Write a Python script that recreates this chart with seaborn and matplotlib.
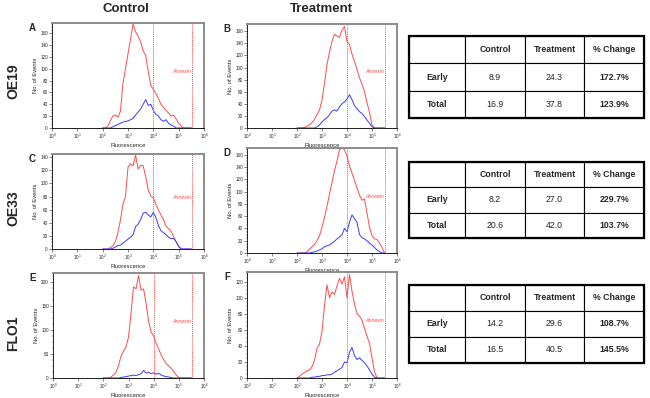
import numpy as np
import pandas as pd
import matplotlib
matplotlib.use("Agg")
import matplotlib.pyplot as plt
import seaborn as sns
from matplotlib.ticker import FixedLocator, MultipleLocator, LogLocator, NullFormatter
from matplotlib.patches import Rectangle

# histogram channels, log10 of fluorescence (0.1 decade bins)
fluor_log = np.round(np.arange(2.0, 5.55, 0.1), 1)

# event counts (red trace / blue trace)
oe19_ctrl_red = [0, 0, 3, 12, 20, 22, 18, 28, 75, 100,
                 125, 150, 175, 162, 155, 145, 130, 122, 95, 72,
                 65, 58, 50, 40, 35, 30, 25, 20, 22, 15,
                 8, 3, 0, 0, 0, 0]
oe19_ctrl_blue = [0, 0, 0, 0, 2, 4, 6, 8, 10, 11,
                  12, 14, 16, 22, 27, 32, 40, 48, 38, 40,
                  30, 23, 20, 14, 11, 14, 8, 5, 3, 0,
                  0, 0, 0, 0, 0, 0]
oe19_trt_red = [0, 0, 0, 1, 3, 5, 9, 14, 22, 30,
                46, 74, 105, 126, 143, 155, 152, 150, 162, 168,
                143, 138, 122, 110, 97, 83, 72, 60, 42, 26,
                5, 0, 0, 0, 0, 0]
oe19_trt_blue = [0, 0, 0, 0, 0, 0, 0, 0, 2, 5,
                 10, 14, 17, 22, 28, 30, 28, 35, 40, 43,
                 48, 55, 47, 37, 32, 27, 24, 19, 13, 8,
                 2, 0, 0, 0, 0, 0]
oe33_ctrl_red = [0, 0, 0, 2, 5, 11, 25, 44, 68, 80,
                 125, 130, 127, 143, 122, 128, 127, 110, 90, 81,
                 78, 68, 60, 52, 45, 35, 31, 27, 19, 11,
                 4, 0, 0, 0, 0, 0]
oe33_ctrl_blue = [0, 0, 0, 0, 1, 3, 5, 6, 9, 12,
                  15, 18, 22, 34, 38, 45, 55, 56, 52, 49,
                  56, 48, 36, 28, 25, 22, 18, 16, 16, 11,
                  4, 0, 0, 0, 0, 0]
oe33_trt_red = [0, 0, 0, 0, 2, 6, 10, 14, 20, 28,
                42, 58, 76, 96, 115, 134, 150, 168, 171, 168,
                158, 142, 130, 118, 106, 94, 86, 88, 65, 42,
                28, 23, 22, 16, 9, 0]
oe33_trt_blue = [0, 0, 0, 0, 0, 0, 1, 2, 3, 5,
                 7, 10, 12, 13, 16, 19, 23, 26, 30, 40,
                 35, 50, 62, 56, 50, 30, 25, 23, 20, 16,
                 13, 9, 5, 2, 0, 0]
flo1_ctrl_red = [0, 0, 0, 2, 6, 12, 25, 45, 56, 65,
                 85, 135, 190, 186, 214, 183, 186, 155, 118, 96,
                 87, 72, 60, 48, 38, 30, 25, 20, 14, 6,
                 1, 0, 0, 0, 0, 0]
flo1_ctrl_blue = [0, 0, 0, 0, 0, 0, 0, 1, 2, 3,
                  4, 5, 6, 5, 7, 9, 16, 10, 12, 9,
                  11, 8, 10, 6, 4, 3, 2, 1, 0, 0,
                  0, 0, 0, 0, 0, 0]
flo1_trt_red = [0, 2, 5, 7, 9, 10, 14, 22, 37, 42,
                58, 90, 116, 100, 107, 104, 115, 124, 117, 126,
                100, 129, 108, 92, 80, 77, 72, 62, 52, 43,
                25, 8, 0, 0, 0, 0]
flo1_trt_blue = [0, 0, 0, 0, 0, 0, 1, 1, 2, 2,
                 3, 3, 4, 4, 5, 7, 9, 11, 13, 20,
                 19, 32, 38, 28, 23, 25, 22, 19, 15, 10,
                 5, 1, 0, 0, 0, 0]

# annexin gate (log10 fluorescence)
gate_lo, gate_hi = 4.0, 5.53

# summary tables
table_cols = ["", "Control", "Treatment", "% Change"]
row_names = ["Early", "Total"]
oe19_control = [8.9, 16.9]
oe19_treatment = [24.3, 37.8]
oe19_change = ["172.7%", "123.9%"]
oe33_control = [8.2, 20.6]
oe33_treatment = [27.0, 42.0]
oe33_change = ["229.7%", "103.7%"]
flo1_control = [14.2, 16.5]
flo1_treatment = [29.6, 40.5]
flo1_change = ["108.7%", "145.5%"]

sns.set_style("white")
plt.rcParams['font.family'] = ['Liberation Sans', 'DejaVu Sans']
plt.rcParams['mathtext.fontset'] = 'custom'
plt.rcParams['mathtext.rm'] = 'Liberation Sans'

W, H = 650, 398
fig = plt.figure(figsize=(6.5, 3.98), dpi=100)


def px_axes(l, t, r, b):
    return fig.add_axes([l / W, 1 - b / H, (r - l) / W, (b - t) / H])


def histogram(ax, red, blue, ymax, ystep):
    df = pd.DataFrame({
        'fluor': np.concatenate([10 ** fluor_log, 10 ** fluor_log]),
        'events': np.concatenate([red, blue]),
        'trace': ['red'] * len(red) + ['blue'] * len(blue),
    })
    sns.lineplot(data=df, x='fluor', y='events', hue='trace',
                 palette={'red': '#ff4a4a', 'blue': '#3a3aff'},
                 legend=False, lw=0.7, ax=ax)
    ax.set_xscale('log')
    ax.set_xlim(1, 1e6)
    ax.set_ylim(0, ymax)
    ax.xaxis.set_major_locator(FixedLocator([10.0 ** k for k in range(7)]))
    ax.set_xticklabels([f'$10^{k}$' for k in range(7)])
    ax.xaxis.set_minor_locator(LogLocator(base=10, subs=np.arange(2, 10)))
    ax.xaxis.set_minor_formatter(NullFormatter())
    ax.yaxis.set_major_locator(MultipleLocator(ystep))
    ax.yaxis.set_minor_locator(MultipleLocator(ystep / 4))
    ax.tick_params(which='major', length=2, width=0.4, labelsize=3.3, pad=1,
                   direction='out', left=True, bottom=True)
    ax.tick_params(which='minor', length=1, width=0.3, left=True, bottom=True)
    ax.set_xlabel('Fluorescence', fontsize=4.2, labelpad=1)
    ax.set_ylabel('No. of Events', fontsize=4.2, labelpad=1.5)
    for s in ['left', 'bottom']:
        ax.spines[s].set_color('black')
        ax.spines[s].set_linewidth(0.6)
    for s in ['top', 'right']:
        ax.spines[s].set_color('#8c8c8c')
        ax.spines[s].set_linewidth(1.4)
    for g in (gate_lo, gate_hi):
        ax.axvline(10 ** g, color='#ff4a4a', ls=(0, (1, 1)), lw=0.7)
    ax.text(10 ** (gate_hi - 0.06), ymax * 0.54, 'Annexin', color='#ff4a4a',
            fontsize=3.8, ha='right', va='center', style='italic')


def summary_table(ax, control, treatment, change):
    ax.set_axis_off()
    cells = [table_cols] + [[n, f'{c:.1f}', f'{t:.1f}', p]
                            for n, c, t, p in zip(row_names, control, treatment, change)]
    tab = ax.table(cellText=cells, bbox=[0, 0, 1, 1], cellLoc='center',
                   colWidths=[0.24, 0.253, 0.253, 0.254])
    tab.auto_set_font_size(False)
    for (r, c), cell in tab.get_celld().items():
        cell.set_linewidth(0.8)
        cell.set_edgecolor('black')
        txt = cell.get_text()
        txt.set_fontsize(6.3)
        if r == 0 or c == 0 or c == 3:
            txt.set_fontweight('bold')
    ax.add_patch(Rectangle((0, 0), 1, 1, transform=ax.transAxes, fill=False,
                           lw=1.6, ec='black', clip_on=False))


panels = [
    ('A', (52, 23, 204, 128), oe19_ctrl_red, oe19_ctrl_blue, 177, 20),
    ('B', (247, 24, 397, 128), oe19_trt_red, oe19_trt_blue, 172, 20),
    ('C', (52, 154, 204, 249), oe33_ctrl_red, oe33_ctrl_blue, 145, 20),
    ('D', (247, 148, 397, 253), oe33_trt_red, oe33_trt_blue, 171, 20),
    ('E', (53, 273, 204, 378), flo1_ctrl_red, flo1_ctrl_blue, 219, 50),
    ('F', (247, 272, 397, 378), flo1_trt_red, flo1_trt_blue, 132, 20),
]
for letter, box, red, blue, ymax, ystep in panels:
    ax = px_axes(*box)
    histogram(ax, red, blue, ymax, ystep)
    fig.text((box[0] - 20) / W, 1 - (box[1] + 5) / H, letter,
             fontsize=7, fontweight='bold', ha='center', va='center')

tables = [
    ((409, 36, 644, 118), oe19_control, oe19_treatment, oe19_change),
    ((409, 162, 644, 238), oe33_control, oe33_treatment, oe33_change),
    ((409, 285, 644, 363), flo1_control, flo1_treatment, flo1_change),
]
for box, ctl, trt, chg in tables:
    summary_table(px_axes(*box), ctl, trt, chg)

fig.text(126 / W, 1 - 9 / H, 'Control', fontsize=9.5, fontweight='bold',
         ha='center', va='center')
fig.text(321 / W, 1 - 9 / H, 'Treatment', fontsize=9.5, fontweight='bold',
         ha='center', va='center')
for name, yc in [('OE19', 81), ('OE33', 208), ('FLO1', 333)]:
    fig.text(13 / W, 1 - yc / H, name, fontsize=10, fontweight='bold',
             rotation=90, ha='center', va='center')

fig.savefig('out.png', dpi=100)
